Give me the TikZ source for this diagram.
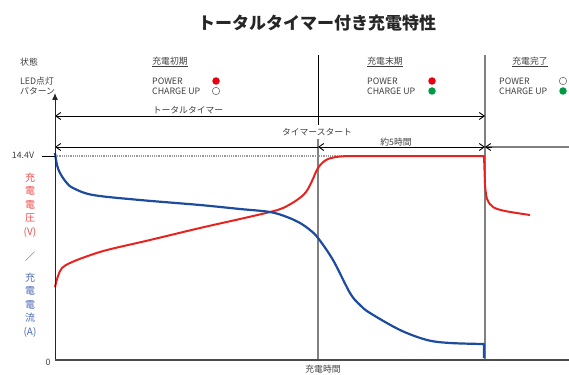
\documentclass[tikz,border=0pt]{standalone}
\usepackage{fontspec}
\setmainfont{Noto Sans CJK JP}
\usetikzlibrary{arrows.meta}
\definecolor{volt}{HTML}{E8231F}
\definecolor{amp}{HTML}{1D4C9E}
\definecolor{voltlbl}{HTML}{EE4B4B}
\definecolor{amplbl}{HTML}{4A68B4}
\definecolor{ledred}{HTML}{E60012}
\definecolor{ledgreen}{HTML}{009944}
\definecolor{guide}{HTML}{808080}
\tikzset{
	every node/.style={inner sep=0pt,font=\fontsize{8.8}{10}\selectfont,text=black!75},
	phase/.style={font=\fontsize{8.8}{10}\selectfont},
	led/.style={shape=circle,minimum size=7.5pt,inner sep=0pt},
	led-red/.style={led,fill=ledred},
	led-green/.style={led,fill=ledgreen},
	led-off/.style={led,draw=black!55,line width=0.6pt,fill=white},
	guide-line/.style={draw=guide,line width=1.5pt},
	volt-curve/.style={draw=volt,line width=2pt,line join=round},
	amp-curve/.style={draw=amp,line width=2.2pt,line join=round},
	axis-label/.style={align=center,font=\fontsize{10}{13.4}\selectfont},
}
\tikzstyle{spanarrow} = [line width=0.9pt,<->,>={Straight Barb[length=5pt,width=7pt]}]

\begin{document}
\begin{tikzpicture}[x=1pt,y=-1pt]
	\useasboundingbox (0,0) rectangle (569,374);

	% title
	\node[font=\fontsize{17}{20}\selectfont\bfseries,text=black!85] (title) at (317,23) {トータルタイマー付き充電特性};

	% header
	\node[anchor=west] (state) at (20,62) {状態};
	\node[anchor=west] (ledtxt) at (20,81) {LED点灯};
	\node[anchor=west] (pattxt) at (20,91) {パターン};

	\node[phase] (early) at (170,62) {\underline{充電初期}};
	\node[anchor=west] (pw1) at (152,81) {POWER};
	\node[anchor=west] (cu1) at (152,91) {CHARGE UP};
	\node[led-red] (pw1led) at (216,81) {};
	\node[led-off] (cu1led) at (216,91) {};

	\node[phase] (late) at (385,62) {\underline{充電末期}};
	\node[anchor=west] (pw2) at (367,81) {POWER};
	\node[anchor=west] (cu2) at (367,91) {CHARGE UP};
	\node[led-red] (pw2led) at (432,81) {};
	\node[led-green] (cu2led) at (432,91) {};

	\node[phase] (done) at (530,62) {\underline{充電完了}};
	\node[anchor=west] (pw3) at (499,81) {POWER};
	\node[anchor=west] (cu3) at (499,91) {CHARGE UP};
	\node[led-off] (pw3led) at (563,81) {};
	\node[led-green] (cu3led) at (563,91) {};

	% points
	\coordinate (o) at (55,360);
	\coordinate (ytop) at (55,93);
	\coordinate (xend) at (569,360);
	\coordinate (start-top) at (318,55);
	\coordinate (start-mid) at (318,125);
	\coordinate (start-low) at (318,139);
	\coordinate (start-bot) at (318,360);
	\coordinate (end-top) at (485,55);
	\coordinate (end-bot) at (485,360);
	\coordinate (tt-l) at (55,116);
	\coordinate (tt-r) at (485,116);
	\coordinate (ts-l) at (55,147);
	\coordinate (ts-m) at (318,147);
	\coordinate (ts-r) at (485,147);
	\coordinate (ts-e) at (569,147);
	\coordinate (v-tick) at (42,156);
	\coordinate (v-axis) at (55,156);
	\coordinate (v-dot) at (345,156);

	% guide lines
	\draw[line width=1pt,black] (start-top) -- (start-mid);
	\draw[guide-line] (start-low) -- (start-bot);
	\draw[guide-line] (end-top) -- (end-bot);
	\draw[guide!80,densely dotted,line width=1.2pt] (v-axis) -- (v-dot);

	% timer spans
	\draw[spanarrow] (tt-l) -- (tt-r);
	\draw[spanarrow,<-] (ts-l) -- (ts-m);
	\draw[spanarrow] (ts-m) -- (ts-r);
	\draw[line width=1.3pt,guide] (ts-r) -- (ts-e);
	\draw[spanarrow,<-] (ts-r) -- ++(7,0);
	\node (ttlabel) at (188,110) {トータルタイマー};
	\node (tslabel) at (317,132) {タイマースタート};
	\node (hours) at (396,142) {約5時間};

	% curves
	\draw[volt-curve] plot[smooth,tension=0.55] coordinates {(55,287) (58,276) (62,268) (70,263) (85,257) (107,250) (150,240) (200,228) (240,219) (270,212) (283,208) (297,200) (306,192) (312,181) (318,168) (326,160) (336,157) (348,156)}
		-- (484,156) -- (485,185) plot[smooth,tension=0.55] coordinates {(485,185) (487,199) (493,207) (505,211) (530,215)};
	\draw[amp-curve] plot[smooth,tension=0.55] coordinates {(55,153) (57,165) (60,173) (66,182) (73,188) (93,195) (140,200) (200,205) (240,209) (270,212) (287,217) (300,223) (310,230) (318,238) (333,260) (350,293) (360,305) (370,313) (400,330) (427,340) (450,343) (484,344)}
		-- (484,358);

	% axes
	\draw[line width=1pt,black!85,-{Latex[length=7pt,width=6pt]}] (o) -- (ytop);
	\draw[line width=1.3pt,black!70] (o) -- (xend);
	\draw[line width=1pt,black] (v-tick) -- (v-axis);
	\node (vmax) at (23,155) {14.4V};
	\node (zero) at (48,362) {0};
	\node (xlabel) at (323,369) {充電時間};
	\node[axis-label,text=voltlbl] (vlabel) at (30,205) {充\\電\\電\\圧\\(V)};
	\node[axis-label] (slash) at (30,257) {／};
	\node[axis-label,text=amplbl] (alabel) at (30,305) {充\\電\\電\\流\\(A)};
\end{tikzpicture}
\end{document}
